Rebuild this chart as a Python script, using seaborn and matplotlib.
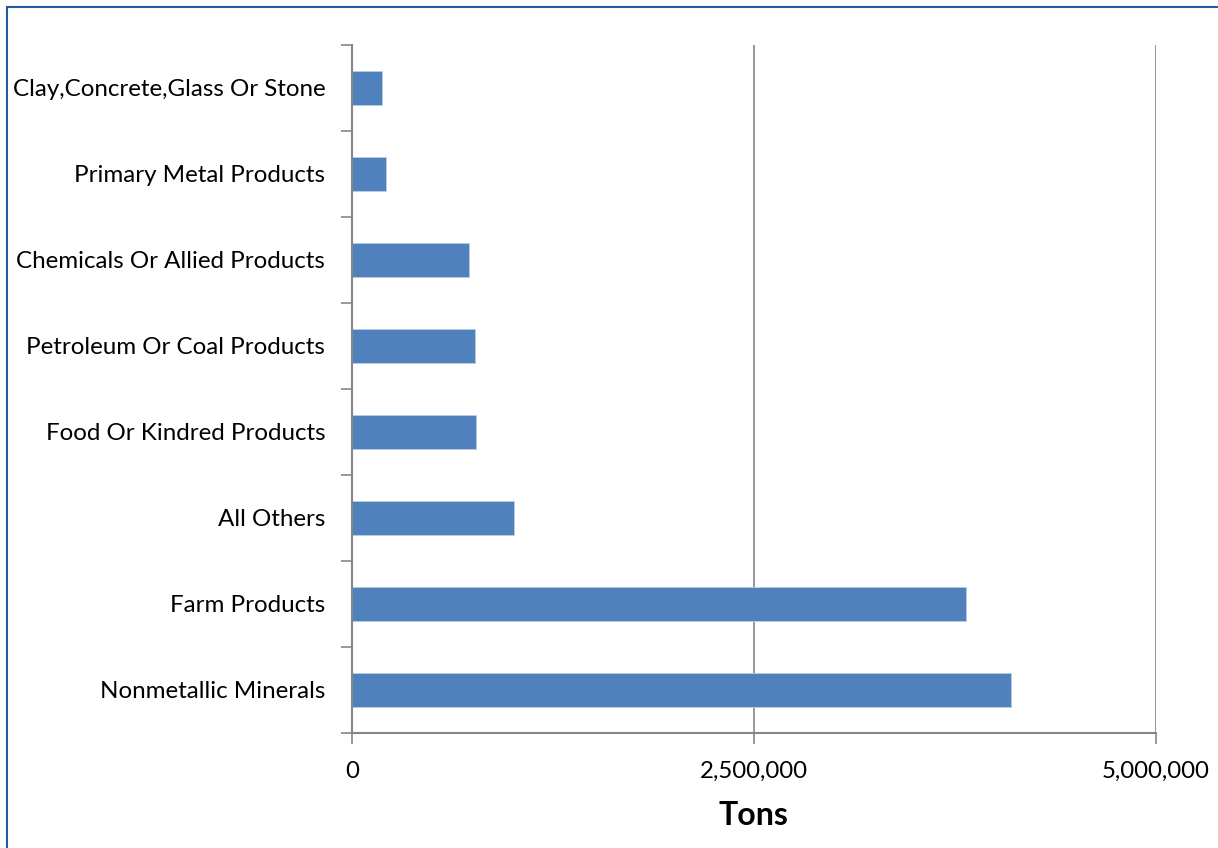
import matplotlib.pyplot as plt
import matplotlib.patches as patches
from matplotlib.ticker import FuncFormatter, FixedLocator
import pandas as pd
import seaborn as sns

categories = ['Clay,Concrete,Glass Or Stone', 'Primary Metal Products',
              'Chemicals Or Allied Products', 'Petroleum Or Coal Products',
              'Food Or Kindred Products', 'All Others', 'Farm Products',
              'Nonmetallic Minerals']
tons = [190000, 211000, 731000, 766000, 775000, 1009000, 3819000, 4100000]
x_ticks = [0, 2500000, 5000000]

df = pd.DataFrame({'Category': categories, 'Tons': tons})

sns.set_style('white')
plt.rcParams['font.family'] = ['Lato', 'DejaVu Sans']
plt.rcParams['text.color'] = 'black'
plt.rcParams['axes.labelcolor'] = 'black'

fig = plt.figure(figsize=(12.18, 8.48), dpi=100)
ax = fig.add_axes([351.7 / 1218, 1 - 733 / 848, (1156 - 351.7) / 1218, (733 - 45) / 848])

sns.barplot(data=df, x='Tons', y='Category', orient='h', color='#4F81BD',
            saturation=1, width=0.4, edgecolor='#B9CDE5', linewidth=0.6, ax=ax)

ax.set_xlim(0, 5000000)
ax.set_ylim(len(categories) - 0.5, -0.5)
ax.xaxis.set_major_locator(FixedLocator(x_ticks))
ax.xaxis.set_major_formatter(FuncFormatter(lambda v, p: f'{int(v):,}'))
ax.grid(axis='x', color='#868686', linewidth=1.2)
ax.set_axisbelow(True)

for s in ['top', 'right']:
    ax.spines[s].set_visible(False)
for s in ['left', 'bottom']:
    ax.spines[s].set_color('#868686')
    ax.spines[s].set_linewidth(1.5)

ax.tick_params(axis='x', length=8, width=1.2, color='#868686', direction='out',
               labelsize=17.3, pad=12, bottom=True, labelcolor='black')
ax.tick_params(axis='y', which='major', length=0, labelsize=17.4, pad=19, labelcolor='black')
ax.set_yticks([i + 0.5 for i in range(-1, len(categories))], minor=True)
ax.tick_params(axis='y', which='minor', length=8, width=1.2, color='#868686', left=True)

ax.set_ylabel('')
ax.set_xlabel('Tons', fontsize=23, fontweight='bold', labelpad=14, color='black')

# thin blue frame round the whole chart
fig.patches.append(patches.Rectangle((7 / 1218, -0.01), 1.02, 1 - 7 / 848 + 0.01,
                                     transform=fig.transFigure, fill=False,
                                     edgecolor='#1F5C99', linewidth=1.5))

fig.savefig('out.png', dpi=100)
